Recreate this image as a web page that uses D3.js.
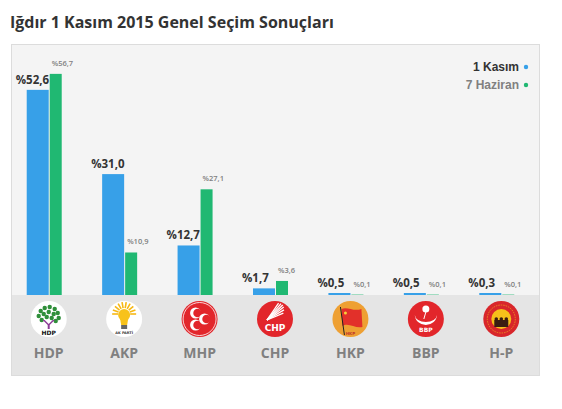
<!DOCTYPE html>
<html>
<head>
<meta charset="utf-8">
<script src="https://cdn.jsdelivr.net/npm/d3@7"></script>
<style>
  body { margin: 0; background: #fff; }
  svg { display: block; }
</style>
</head>
<body>
<script>
const width = 562;
const height = 409;

const parties = ["HDP", "AKP", "MHP", "CHP", "HKP", "BBP", "H-P"];
const kasim = [52.6, 31.0, 12.7, 1.7, 0.5, 0.5, 0.3];
const haziran = [56.7, 10.9, 27.1, 3.6, 0.1, 0.1, 0.1];
const seriesNames = ["1 Kasım", "7 Haziran"];

const blue = "#37a0e8";
const green = "#20b872";
const fmt = v => "%" + v.toFixed(1).replace(".", ",");

const card = { left: 11, top: 44, right: 539, bottom: 375 };
const baseY = 295;

const svg = d3.select("body").append("svg")
  .attr("width", width)
  .attr("height", height);

// başlık
svg.append("text")
  .attr("x", 10)
  .attr("y", 28)
  .attr("fill", "#333")
  .style("font", "bold 16px 'Open Sans', sans-serif")
  .text("Iğdır 1 Kasım 2015 Genel Seçim Sonuçları");

// kart
svg.append("rect")
  .attr("x", card.left + 0.5)
  .attr("y", card.top + 0.5)
  .attr("width", card.right - card.left)
  .attr("height", card.bottom - card.top)
  .attr("fill", "#f4f4f4")
  .attr("stroke", "#dcdcdc");

svg.append("rect")
  .attr("x", card.left + 1)
  .attr("y", baseY)
  .attr("width", card.right - card.left - 1)
  .attr("height", card.bottom - baseY)
  .attr("fill", "#e5e5e5");

const x = d3.scaleBand()
  .domain(parties)
  .range([card.left, card.right])
  .padding(0);

const y = d3.scaleLinear()
  .domain([0, 60])
  .range([baseY, baseY - 60 * 3.9]);

const mid = p => x(p) + x.bandwidth() / 2;

const rows = parties.map((p, i) => ({ p, a: kasim[i], b: haziran[i] }));

const g = svg.append("g");

// 1 Kasım barları
g.selectAll(".bar-a")
  .data(rows)
  .join("rect")
  .attr("class", "bar-a")
  .attr("x", d => mid(d.p) - 22)
  .attr("y", d => Math.min(y(d.a), baseY - 2))
  .attr("width", 22)
  .attr("height", d => Math.max(2, baseY - y(d.a)))
  .attr("fill", blue);

// 7 Haziran barları
g.selectAll(".bar-b")
  .data(rows)
  .join("rect")
  .attr("class", "bar-b")
  .attr("x", d => mid(d.p) + 1)
  .attr("y", d => y(d.b))
  .attr("width", 12)
  .attr("height", d => baseY - y(d.b))
  .attr("fill", green);

g.selectAll(".lbl-a")
  .data(rows)
  .join("text")
  .attr("class", "lbl-a")
  .attr("x", d => mid(d.p) - 33)
  .attr("y", d => Math.min(y(d.a), baseY - 2) - 6)
  .attr("fill", "#333")
  .style("font", "bold 11.5px 'Open Sans', sans-serif")
  .text(d => fmt(d.a));

g.selectAll(".lbl-b")
  .data(rows)
  .join("text")
  .attr("class", "lbl-b")
  .attr("x", d => mid(d.p) + 3)
  .attr("y", d => y(d.b) - 8)
  .attr("fill", "#808080")
  .style("font", "600 7.5px 'Open Sans', sans-serif")
  .text(d => fmt(d.b));

// parti adları
g.selectAll(".cat")
  .data(parties)
  .join("text")
  .attr("class", "cat")
  .attr("x", d => mid(d))
  .attr("y", 358)
  .attr("text-anchor", "middle")
  .attr("fill", "#808080")
  .style("font", "bold 14px 'Open Sans', sans-serif")
  .text(d => d);

// lejant
const legend = svg.append("g");
seriesNames.forEach((s, i) => {
  legend.append("text")
    .attr("x", 519)
    .attr("y", 71 + i * 18)
    .attr("text-anchor", "end")
    .attr("fill", i === 0 ? "#333" : "#808080")
    .style("font", "bold 12px 'Liberation Sans', Arial, sans-serif")
    .text(s);
  legend.append("circle")
    .attr("cx", 526)
    .attr("cy", 67 + i * 18)
    .attr("r", 2.2)
    .attr("fill", i === 0 ? blue : green);
});

// logolar
const logo = svg.selectAll(".logo")
  .data(parties)
  .join("g")
  .attr("class", "logo")
  .attr("transform", d => `translate(${mid(d)},319)`);

const draw = {
  "HDP": l => {
    l.append("circle").attr("r", 18).attr("fill", "#fff");
    const leaves = [[-8,-8],[-4,-11],[1,-12],[6,-10],[9,-6],[-10,-3],[-5,-5],[0,-7],[5,-5],[10,-1],[-7,1],[7,2],[-2,-2],[3,-1]];
    leaves.forEach(p => l.append("circle").attr("cx", p[0]).attr("cy", p[1]).attr("r", 2.2).attr("fill", "#2f8f3a"));
    l.append("path").attr("d", "M-6,1 L-1,6 L-1,10 L1,10 L1,6 L6,1 L4,1 L0,5 L-4,1 Z").attr("fill", "#8b3b96");
    l.append("text").attr("y", 16).attr("text-anchor", "middle").attr("fill", "#111")
      .style("font", "bold 6px 'DejaVu Sans', sans-serif").text("HDP");
  },
  "AKP": l => {
    l.append("circle").attr("r", 18).attr("fill", "#fff");
    d3.range(10).forEach(i => {
      const a = -Math.PI + i * Math.PI / 9;
      l.append("line").attr("x1", 6 * Math.cos(a)).attr("y1", -5 + 6 * Math.sin(a))
        .attr("x2", 12 * Math.cos(a)).attr("y2", -5 + 12 * Math.sin(a))
        .attr("stroke", "#f6b814").attr("stroke-width", 1.6);
    });
    l.append("circle").attr("cy", -4).attr("r", 6).attr("fill", "#f8c21a");
    l.append("path").attr("d", "M-4,0 L4,0 L3,6 L-3,6 Z").attr("fill", "#f8c21a");
    l.append("rect").attr("x", -3).attr("y", 6).attr("width", 6).attr("height", 4).attr("fill", "#666");
    l.append("text").attr("y", 15).attr("text-anchor", "middle").attr("fill", "#333")
      .style("font", "bold 3.5px 'DejaVu Sans', sans-serif").text("AK PARTİ");
  },
  "MHP": l => {
    l.append("circle").attr("r", 18).attr("fill", "#e2262b");
    l.append("circle").attr("r", 16.5).attr("fill", "none").attr("stroke", "#fff").attr("stroke-width", 0.8);
    [[-4,-6],[-4,6],[5,0]].forEach(p => {
      l.append("circle").attr("cx", p[0]).attr("cy", p[1]).attr("r", 5.5).attr("fill", "#fff");
      l.append("circle").attr("cx", p[0] + 2).attr("cy", p[1]).attr("r", 4.3).attr("fill", "#e2262b");
    });
  },
  "CHP": l => {
    l.append("circle").attr("r", 18).attr("fill", "#e2262b");
    d3.range(6).forEach(i => {
      const a = -Math.PI / 2 + 0.15 + i * 0.22;
      l.append("line").attr("x1", -8).attr("y1", 1)
        .attr("x2", -8 + 17 * Math.cos(a + 0.6)).attr("y2", 1 + 17 * Math.sin(a - 0.1))
        .attr("stroke", "#fff").attr("stroke-width", 1.3);
    });
    l.append("text").attr("y", 12).attr("text-anchor", "middle").attr("fill", "#fff")
      .style("font", "bold 9px 'DejaVu Sans', sans-serif").text("CHP");
  },
  "HKP": l => {
    l.append("circle").attr("r", 18).attr("fill", "#eea033");
    l.append("path").attr("d", "M-9,-10 C-3,-13 3,-7 11,-10 L12,8 C5,10 -2,3 -8,7 Z").attr("fill", "#e2302a");
    l.append("line").attr("x1", -10).attr("y1", -12).attr("x2", -6).attr("y2", 16).attr("stroke", "#222").attr("stroke-width", 1);
    l.append("circle").attr("cx", -5).attr("cy", -6).attr("r", 1.5).attr("fill", "#f7d23a");
    l.append("text").attr("y", 16).attr("text-anchor", "middle").attr("fill", "#c0392b")
      .style("font", "bold 4px 'DejaVu Sans', sans-serif").text("HKP");
  },
  "BBP": l => {
    l.append("circle").attr("r", 18).attr("fill", "#e2262b");
    l.append("path").attr("d", "M-11,-4 A11,10 0 0 0 11,-4 A11,7 0 0 1 -11,-4 Z").attr("fill", "#fff");
    l.append("circle").attr("cx", 0).attr("cy", -10).attr("r", 3.5).attr("fill", "#fff");
    l.append("line").attr("x1", 0).attr("y1", -7).attr("x2", -2).attr("y2", 0).attr("stroke", "#fff").attr("stroke-width", 1);
    l.append("text").attr("y", 13).attr("text-anchor", "middle").attr("fill", "#fff")
      .style("font", "bold 6px 'DejaVu Sans', sans-serif").text("BBP");
  },
  "H-P": l => {
    l.append("circle").attr("r", 18).attr("fill", "#d8262b");
    l.append("circle").attr("r", 14).attr("fill", "none").attr("stroke", "#f3c21b").attr("stroke-width", 0.6).attr("stroke-dasharray", "1.5,1");
    l.append("circle").attr("cy", 0).attr("r", 10).attr("fill", "#f6c01a");
    l.append("rect").attr("x", -7).attr("y", 1).attr("width", 14).attr("height", 7).attr("fill", "#3a1d12");
    [-5, 0, 5].forEach(cx => l.append("circle").attr("cx", cx).attr("cy", 0).attr("r", 1.8).attr("fill", "#3a1d12"));
  }
};

logo.each(function(d) { draw[d](d3.select(this)); });
</script>
</body>
</html>
